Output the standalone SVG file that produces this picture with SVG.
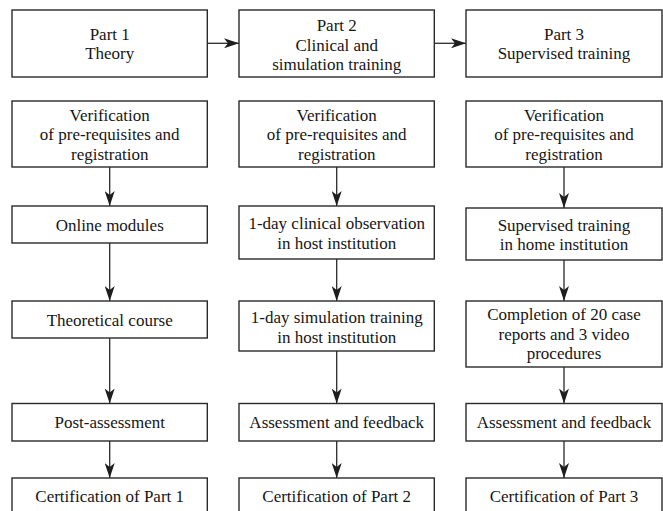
<svg xmlns="http://www.w3.org/2000/svg" width="663" height="511" viewBox="0 0 663 511">
  <style>
    .box { fill: #ffffff; stroke: #2a2a2a; stroke-width: 1.4; }
    .lbl { font-family: "Liberation Serif", "Times New Roman", serif; font-size: 17px; fill: #161616; text-anchor: middle; }
    .link { fill: none; stroke: #2a2a2a; stroke-width: 1.3; marker-end: url(#head); }
  </style>
  <defs>
    <marker id="head" markerUnits="userSpaceOnUse" markerWidth="15" markerHeight="10" refX="15" refY="5" orient="auto">
      <path d="M0,0 L15,5 L0,10 L4,5 Z" fill="#1e1e1e"/>
    </marker>
  </defs>
  <rect width="663" height="511" fill="#ffffff"/>

  <!-- connectors -->
  <g id="connectors">
    <line class="link" x1="207.3" y1="43.3" x2="239" y2="43.3"/>
    <line class="link" x1="434.3" y1="43.3" x2="466" y2="43.3"/>

    <line class="link" x1="109.7" y1="167" x2="109.7" y2="206"/>
    <line class="link" x1="109.7" y1="243" x2="109.7" y2="301"/>
    <line class="link" x1="109.7" y1="338" x2="109.7" y2="403.5"/>
    <line class="link" x1="109.7" y1="441" x2="109.7" y2="478"/>

    <line class="link" x1="336.7" y1="167" x2="336.7" y2="206"/>
    <line class="link" x1="336.7" y1="259" x2="336.7" y2="301"/>
    <line class="link" x1="336.7" y1="351" x2="336.7" y2="403.5"/>
    <line class="link" x1="336.7" y1="441" x2="336.7" y2="478"/>

    <line class="link" x1="564" y1="167" x2="564" y2="208"/>
    <line class="link" x1="564" y1="260" x2="564" y2="301"/>
    <line class="link" x1="564" y1="367" x2="564" y2="403.5"/>
    <line class="link" x1="564" y1="441" x2="564" y2="478"/>
  </g>

  <!-- column 1 -->
  <g id="part1">
    <rect class="box" x="12" y="10" width="195.3" height="67"/>
    <text class="lbl" x="109.7" y="39.8">Part 1</text>
    <text class="lbl" x="109.7" y="59.3">Theory</text>
  </g>
  <g id="verify1">
    <rect class="box" x="12" y="101" width="195.3" height="66"/>
    <text class="lbl" x="109.7" y="120.5">Verification</text>
    <text class="lbl" x="109.7" y="140">of pre-requisites and</text>
    <text class="lbl" x="109.7" y="159.5">registration</text>
  </g>
  <g id="online">
    <rect class="box" x="12" y="206" width="195.3" height="37"/>
    <text class="lbl" x="109.7" y="230.5">Online modules</text>
  </g>
  <g id="theory-course">
    <rect class="box" x="12" y="301" width="195.3" height="37"/>
    <text class="lbl" x="109.7" y="325.5">Theoretical course</text>
  </g>
  <g id="post-assessment">
    <rect class="box" x="12" y="403.5" width="195.3" height="37.5"/>
    <text class="lbl" x="109.7" y="428.3">Post-assessment</text>
  </g>
  <g id="cert1">
    <rect class="box" x="12" y="478" width="195.3" height="38"/>
    <text class="lbl" x="109.7" y="502">Certification of Part 1</text>
  </g>

  <!-- column 2 -->
  <g id="part2">
    <rect class="box" x="239" y="10" width="195.3" height="67"/>
    <text class="lbl" x="336.7" y="30.5">Part 2</text>
    <text class="lbl" x="336.7" y="50.5">Clinical and</text>
    <text class="lbl" x="336.7" y="70">simulation training</text>
  </g>
  <g id="verify2">
    <rect class="box" x="239" y="101" width="195.3" height="66"/>
    <text class="lbl" x="336.7" y="120.5">Verification</text>
    <text class="lbl" x="336.7" y="140">of pre-requisites and</text>
    <text class="lbl" x="336.7" y="159.5">registration</text>
  </g>
  <g id="observation">
    <rect class="box" x="239" y="206" width="195.3" height="53"/>
    <text class="lbl" x="336.7" y="229.3">1-day clinical observation</text>
    <text class="lbl" x="336.7" y="248.7">in host institution</text>
  </g>
  <g id="simulation">
    <rect class="box" x="239" y="301" width="195.3" height="50"/>
    <text class="lbl" x="336.7" y="323.3">1-day simulation training</text>
    <text class="lbl" x="336.7" y="342.7">in host institution</text>
  </g>
  <g id="assess2">
    <rect class="box" x="239" y="403.5" width="195.3" height="37.5"/>
    <text class="lbl" x="336.7" y="428.3">Assessment and feedback</text>
  </g>
  <g id="cert2">
    <rect class="box" x="239" y="478" width="195.3" height="38"/>
    <text class="lbl" x="336.7" y="502">Certification of Part 2</text>
  </g>

  <!-- column 3 -->
  <g id="part3">
    <rect class="box" x="466" y="10" width="196" height="67"/>
    <text class="lbl" x="564" y="39.8">Part 3</text>
    <text class="lbl" x="564" y="59.3">Supervised training</text>
  </g>
  <g id="verify3">
    <rect class="box" x="466" y="101" width="196" height="66"/>
    <text class="lbl" x="564" y="120.5">Verification</text>
    <text class="lbl" x="564" y="140">of pre-requisites and</text>
    <text class="lbl" x="564" y="159.5">registration</text>
  </g>
  <g id="home-training">
    <rect class="box" x="466" y="208" width="196" height="52"/>
    <text class="lbl" x="564" y="230.5">Supervised training</text>
    <text class="lbl" x="564" y="250">in home institution</text>
  </g>
  <g id="case-reports">
    <rect class="box" x="466" y="301" width="196" height="66"/>
    <text class="lbl" x="564" y="320.3">Completion of 20 case</text>
    <text class="lbl" x="564" y="339.5">reports and 3 video</text>
    <text class="lbl" x="564" y="358.7">procedures</text>
  </g>
  <g id="assess3">
    <rect class="box" x="466" y="403.5" width="196" height="37.5"/>
    <text class="lbl" x="564" y="428.3">Assessment and feedback</text>
  </g>
  <g id="cert3">
    <rect class="box" x="466" y="478" width="196" height="38"/>
    <text class="lbl" x="564" y="502">Certification of Part 3</text>
  </g>
</svg>
